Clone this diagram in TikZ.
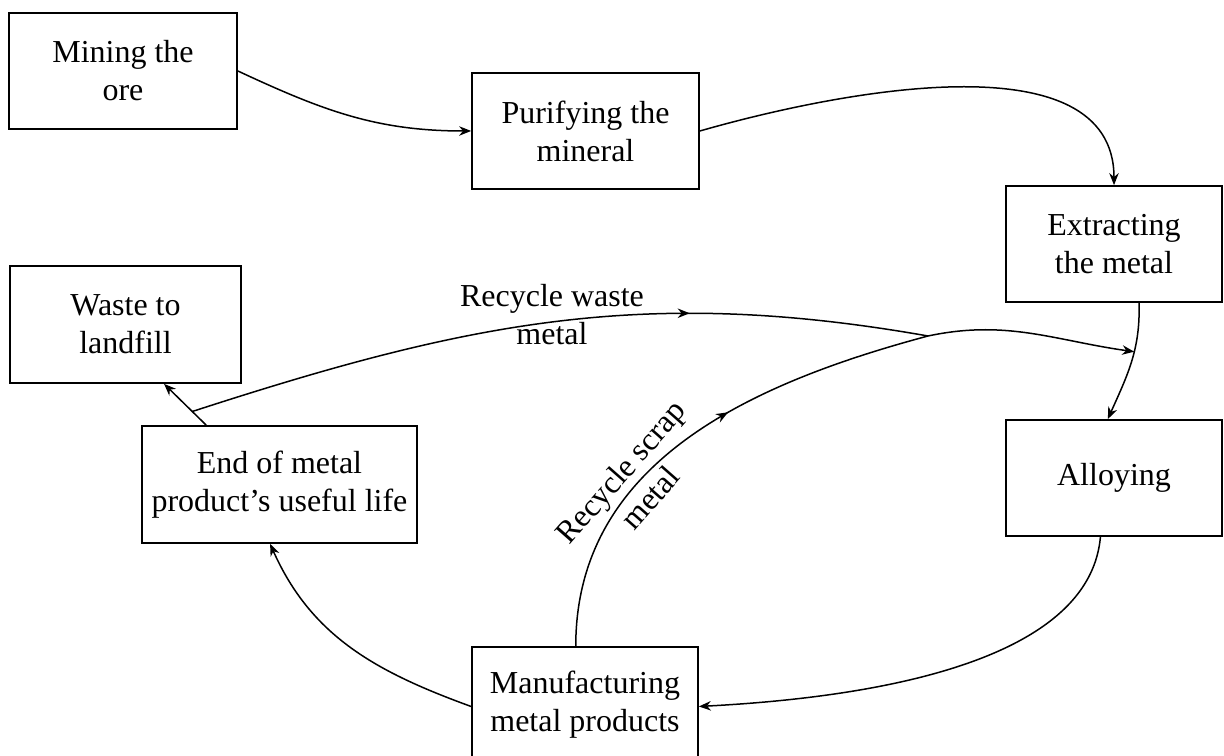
\documentclass[tikz,border=0pt]{standalone}
\usepackage{fontspec}
\setmainfont{Liberation Serif}
\usetikzlibrary{arrows.meta,decorations.markings}
\tikzset{
	stage/.style={draw, line width=0.35mm, align=center, inner sep=0pt, minimum width=#1, minimum height=23.2mm, font=\fontsize{18.2}{21.6}\selectfont},
	stage/.default=45.4mm,
	note/.style={align=center, inner sep=0pt, font=\fontsize{18.2}{21.6}\selectfont},
	flow/.style={line width=0.3mm, -{Stealth[length=2.4mm,width=1.9mm]}},
	midarrow/.style={postaction={decorate}, decoration={markings, mark=at position #1 with {\arrow{Stealth[length=2.4mm,width=1.9mm]}}}}
}
\begin{document}
\begin{tikzpicture}[x=0.2mm, y=0.2mm]
	\useasboundingbox (0,0) rectangle (1224,756);
	% stages of the cycle
	\node[stage=45.6mm] (mine) at (123,685) {Mining the\\ore};
	\node[stage] (purify) at (585.5,625) {Purifying the\\mineral};
	\node[stage=43.2mm] (extract) at (1114,512) {Extracting\\the metal};
	\node[stage=43.2mm] (alloy) at (1114,278) {Alloying};
	\node[stage=45.2mm, minimum height=23mm] (manu) at (585,51.5) {Manufacturing\\metal products};
	\node[stage=55mm, minimum height=23.4mm] (endlife) at (279.5,271.5) {End of metal\\product’s useful life};
	\node[stage=46.2mm, minimum height=23.4mm] (waste) at (125.5,431.5) {Waste to\\landfill};
	% main chain
	\draw[flow] (mine.east) to[out=-25,in=180] (purify.west);
	\draw[flow] (purify.east) to[out=16,in=90,looseness=0.9] (extract.north);
	\draw[flow] (extract.-67) to[out=-88,in=66] coordinate[pos=0.4] (rejoin) (alloy.96);
	\draw[flow] (alloy.-103) to[out=-95,in=3,looseness=0.8] (manu.-1);
	\draw[flow] (manu.181) to[out=160,in=-66] (endlife.-99);
	\draw[flow] (endlife.141.5) -- coordinate[pos=0.33] (discard) (waste.-57);
	% recycling loops
	\coordinate (merge) at (928,420);
	\draw[line width=0.3mm, midarrow=0.68] (discard) to[out=18,in=170] (merge);
	\node[note] (wastelbl) at (552,441) {Recycle waste\\metal};
	\draw[flow, midarrow=0.41] (manu.99) to[out=90,in=195]
		node[note, pos=0.36, sloped, above=1pt] (scrap1) {Recycle scrap}
		node[note, pos=0.36, sloped, below=4pt] (scrap2) {metal} (merge)
		to[out=12,in=172] (rejoin);
\end{tikzpicture}
\end{document}
